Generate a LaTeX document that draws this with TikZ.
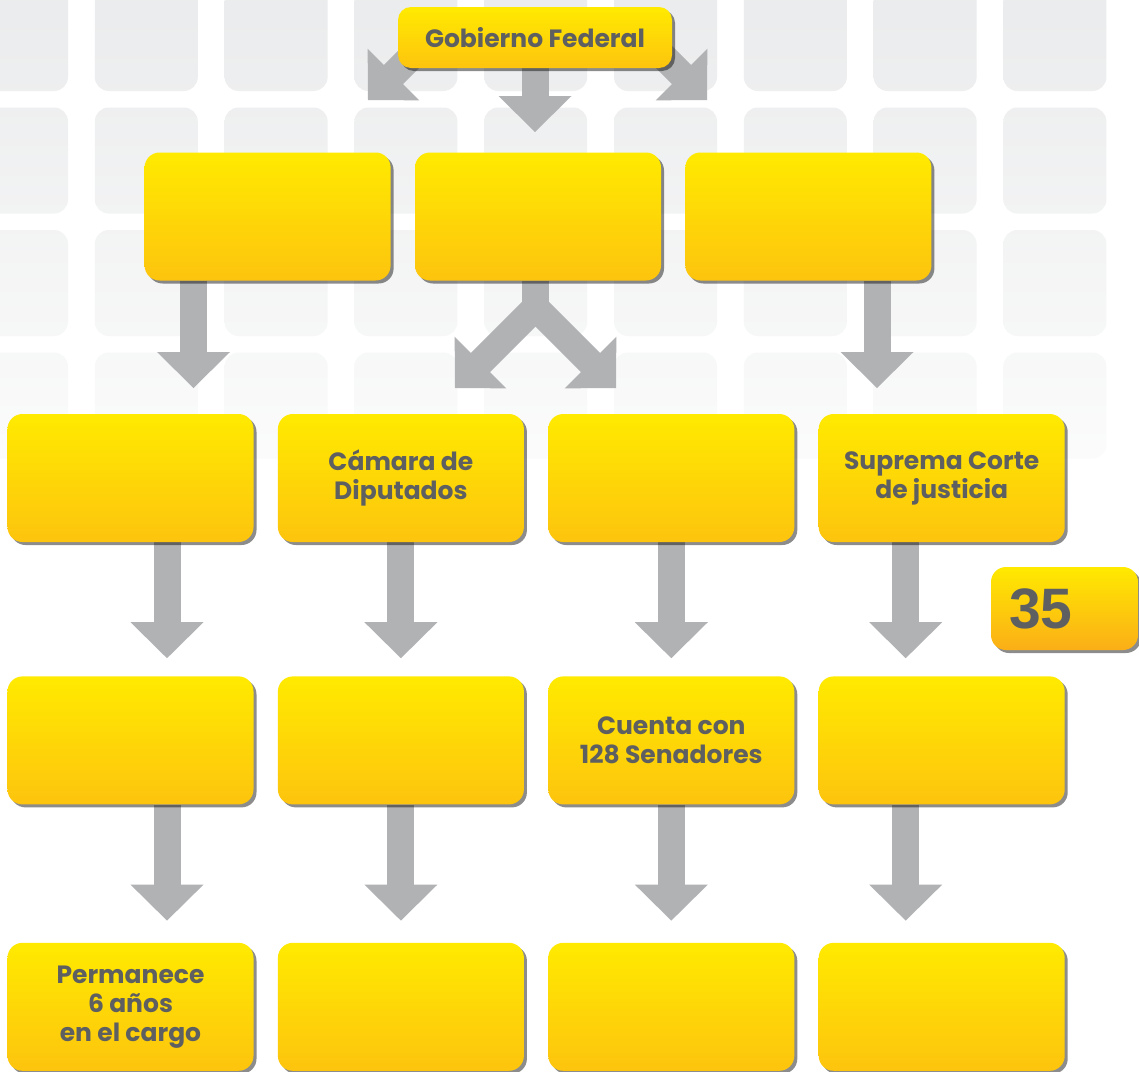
\documentclass[tikz,border=0pt]{standalone}
\usepackage{fontspec}
\setmainfont{Poppins}
\newfontfamily\numfont{Liberation Sans}
\usepackage{tikz}
\usetikzlibrary{positioning,calc,shadows}
\definecolor{boxtop}{RGB}{255,234,0}
\definecolor{boxbottom}{RGB}{253,196,14}
\definecolor{badgebottom}{RGB}{251,174,23}
\definecolor{arrowgray}{RGB}{177,178,180}
\definecolor{textgray}{RGB}{94,95,97}
\definecolor{tilegray}{RGB}{234,235,236}
\pgfdeclarelayer{background}
\pgfsetlayers{background,main}
\tikzset{
  box/.style={
    rectangle, rounded corners=15bp, minimum width=246bp, minimum height=128bp,
    inner sep=0pt, align=center, top color=boxtop, bottom color=boxbottom,
    text=textgray, font=\bfseries\fontsize{25bp}{29bp}\selectfont,
    drop shadow={shadow xshift=3bp, shadow yshift=-3bp, fill=black, opacity=0.45}},
  topbox/.style={box, minimum width=274bp, minimum height=61bp, rounded corners=13bp},
  badge/.style={box, minimum width=147bp, minimum height=83bp, text width=111bp,
    align=left, inner xsep=18bp, bottom color=badgebottom,
    font=\numfont\bfseries\fontsize{57bp}{57bp}\selectfont}
}
\newcommand{\blockarrow}[2]{%
  \path (#1) coordinate (from) (#2) coordinate (tip);
  \path ($(tip)!36bp!(from)$) coordinate (hb);
  \draw [arrowgray, line width=27bp] (from) -- ($(tip)!35bp!(from)$);
  \fill [arrowgray] ($(hb)!36.5bp!90:(tip)$) -- (tip) -- ($(hb)!36.5bp!-90:(tip)$) -- cycle;
}
\begin{document}
\begin{tikzpicture}[x=1bp, y=-1bp]
\useasboundingbox (0,0) rectangle (1139,1072);
\clip (0,0) rectangle (1139,1072);

\begin{pgfonlayer}{background}
\fill [white] (0,0) rectangle (1139,1072);
\foreach \j in {0,...,3} {
  \pgfmathtruncatemacro{\ta}{(122.5*\j)/490*85}
  \pgfmathtruncatemacro{\tb}{(122.5*\j+106)/490*85}
  \foreach \i in {0,...,8}
    \shade [rounded corners=14bp, top color=white!\ta!tilegray, bottom color=white!\tb!tilegray]
      (-35+129.8*\i,-15+122.5*\j) rectangle ++(103,106);
}
\end{pgfonlayer}

\node (gob) [topbox] at (535,37.5) {Gobierno Federal};

\node (legislativo) [box] at (538,216.5) {};
\node (ejecutivo) [box, left=24bp of legislativo] {};
\node (judicial) [box, right=24bp of legislativo] {};

\node (presidente) [box] at (130.5,478) {};
\node (diputados) [box, right=24bp of presidente] {C\'amara de\\Diputados};
\node (senadores) [box, right=24bp of diputados] {};
\node (suprema-corte) [box, right=24bp of senadores] {Suprema Corte\\de justicia};

\node (presidente-2) [box, below=134bp of presidente] {};
\node (diputados-2) [box, below=134bp of diputados] {};
\node (senadores-2) [box, below=134bp of senadores] {Cuenta con\\128 Senadores};
\node (suprema-corte-2) [box, below=134bp of suprema-corte] {};

\node (presidente-3) [box, below=138bp of presidente-2] {Permanece\\6 a\~nos\\en el cargo};
\node (diputados-3) [box, below=138bp of diputados-2] {};
\node (senadores-3) [box, below=138bp of senadores-2] {};
\node (suprema-corte-3) [box, below=138bp of suprema-corte-2] {};

\node (pagina) [badge] at (1064.5,608.5) {35};

\begin{pgfonlayer}{background}
\coordinate (gob-tip-left) at (368,100);
\coordinate (gob-tip-mid) at (535,132);
\coordinate (gob-tip-right) at (707,100);
\blockarrow{$(gob-tip-left)+(70,-70)$}{gob-tip-left}
\blockarrow{gob.south -| gob-tip-mid}{gob-tip-mid}
\blockarrow{$(gob-tip-right)+(-70,-70)$}{gob-tip-right}

\coordinate (ejec-tip) at (193.5,388);
\coordinate (jud-tip) at (877,388);
\coordinate (leg-split) at (535.5,307.5);
\coordinate (leg-tip-left) at (455,388);
\coordinate (leg-tip-right) at (616,388);
\blockarrow{ejecutivo.south -| ejec-tip}{ejec-tip}
\blockarrow{judicial.south -| jud-tip}{jud-tip}
\draw [arrowgray, line width=27bp] (legislativo.south -| leg-split) -- (leg-split);
\blockarrow{leg-split}{leg-tip-left}
\blockarrow{leg-split}{leg-tip-right}

\blockarrow{$(presidente.south)+(36.5,0)$}{$(presidente-2.north)+(36.5,-18)$}
\blockarrow{diputados.south}{$(diputados-2.north)+(0,-18)$}
\blockarrow{senadores.south}{$(senadores-2.north)+(0,-18)$}
\blockarrow{$(suprema-corte.south)+(-36,0)$}{$(suprema-corte-2.north)+(-36,-18)$}

\blockarrow{$(presidente-2.south)+(36.5,0)$}{$(presidente-3.north)+(36.5,-22)$}
\blockarrow{diputados-2.south}{$(diputados-3.north)+(0,-22)$}
\blockarrow{senadores-2.south}{$(senadores-3.north)+(0,-22)$}
\blockarrow{$(suprema-corte-2.south)+(-36,0)$}{$(suprema-corte-3.north)+(-36,-22)$}
\end{pgfonlayer}
\end{tikzpicture}
\end{document}
